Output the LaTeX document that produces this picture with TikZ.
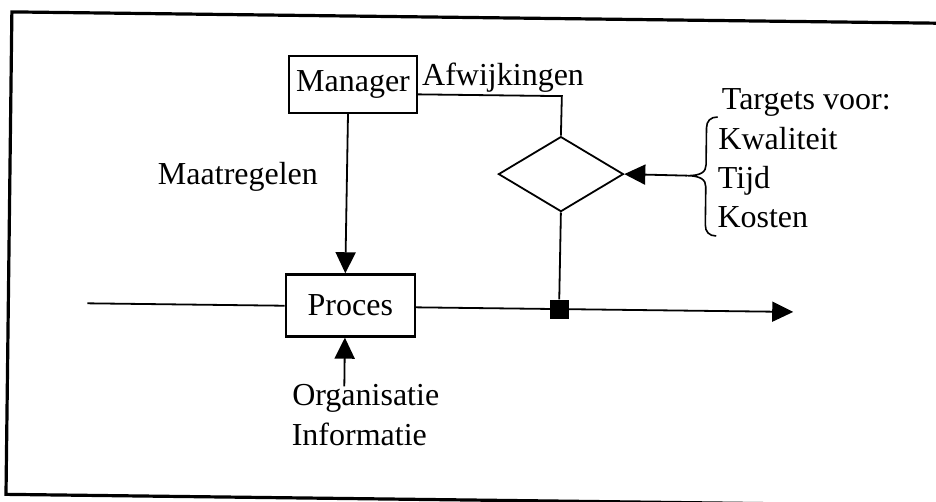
\documentclass[tikz,border=0pt]{standalone}
\usepackage{fontspec}
\setmainfont{Liberation Serif}
\usetikzlibrary{arrows.meta,shapes.geometric}
\begin{document}
\begin{tikzpicture}[x=1pt,y=-1pt,
  every node/.style={font=\fontsize{32}{39}\selectfont, inner sep=0pt},
  box/.style={draw, line width=2.4pt, minimum width=128pt, minimum height=57pt},
  conn/.style={line width=1.8pt},
  arr/.style={conn, -{Triangle[length=21pt,width=20pt]}},
  frameline/.style={line width=3.2pt},
  txt/.style={anchor=base west}]
\useasboundingbox (0,0) rectangle (936,501);
\clip (0,0) rectangle (936,501);
\begin{scope}[rotate around={-0.7:(470,250)}]
  % open frame (right side runs off the page)
  \draw[frameline] (950,17.5) -- (9,17.5) -- (9,500) -- (950,500);

  % main blocks
  \node[box] (m) at (351,86) {Manager};
  \node[box, minimum width=129pt, minimum height=62pt] (p) at (351,307) {Proces};
  \node[draw, diamond, line width=1.8pt, minimum width=125pt, minimum height=75pt] (d) at (560,173) {};

  % free ends and corners
  \coordinate (in) at (88,308);
  \coordinate (out) at (794,308);
  \coordinate (org) at (346,388);
  \coordinate (bt) at (686,173);
  \coordinate (cr) at (560,95);

  % process line with measuring point
  \draw[conn] (in) -- (in -| p.west);
  \draw[arr] (p.east |- in) -- (out);
  \node[fill, minimum size=19pt] (sq) at (560,308) {};
  \draw[conn] (d.south) -- (sq.north);

  % control loop
  \draw[conn] (m.east |- cr) -- (cr) -- (d.north);
  \draw[arr] ([xshift=-5pt]m.south) -- ([xshift=-5pt]p.north);
  \draw[arr] (org) -- (org |- p.south);
  \draw[arr] (bt) -- (d.east);

  % brace around the targets
  \draw[line width=1.6pt] (716,114) .. controls (709,114) and (705,118) .. (705,125)
    -- (705,162) .. controls (705,169) and (700,173) .. (bt)
    .. controls (700,173) and (705,177) .. (705,184)
    -- (705,222) .. controls (705,229) and (709,233) .. (716,233);

  % labels
  \node[txt] (afw) at (420,86) {Afwijkingen};
  \node[txt] (maat) at (157,188) {Maatregelen};
  \node[txt] (tv) at (720,106) {Targets voor:};
  \node[txt] (kw) at (717,146) {Kwaliteit};
  \node[txt] (tijd) at (717,185) {Tijd};
  \node[txt] (kost) at (717,224) {Kosten};
  \node[txt] (orgt) at (294,408) {Organisatie};
  \node[txt] (inf) at (294,448) {Informatie};
\end{scope}
\end{tikzpicture}
\end{document}
